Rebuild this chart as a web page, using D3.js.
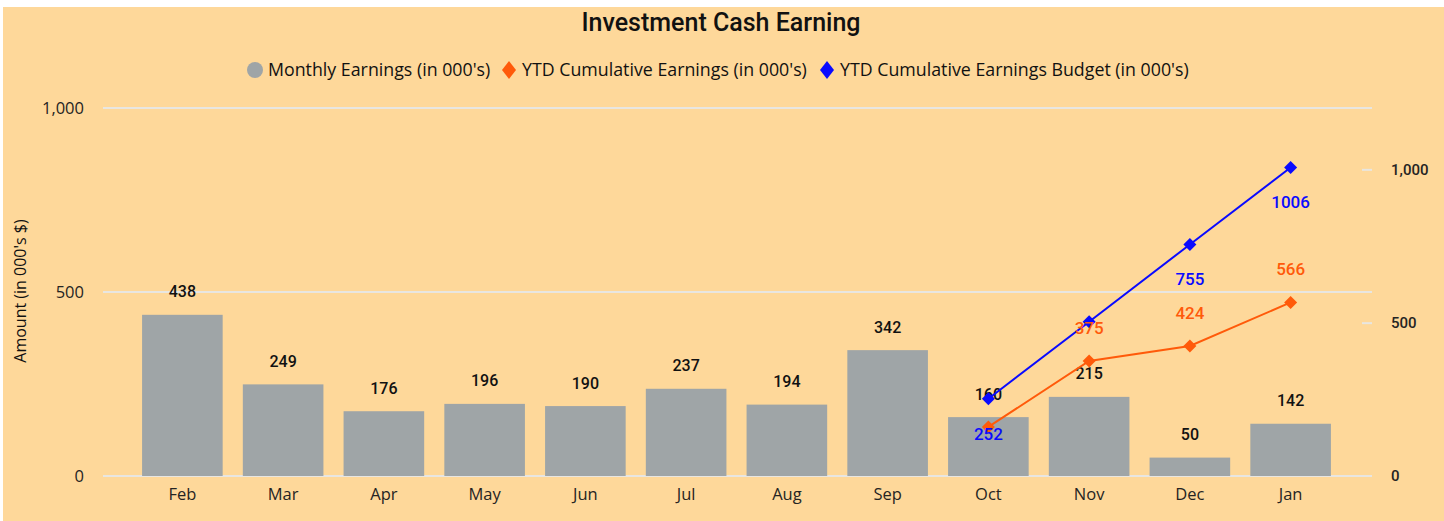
<!DOCTYPE html>
<html>
<head>
<meta charset="utf-8">
<script src="https://cdn.jsdelivr.net/npm/d3@7"></script>
<style>
  body { margin: 0; background: #ffffff; }
  svg { display: block; }
</style>
</head>
<body>
<script>
let w = 1444;
let h = 521;

const months = ["Feb", "Mar", "Apr", "May", "Jun", "Jul", "Aug", "Sep", "Oct", "Nov", "Dec", "Jan"];
const monthlyEarnings = [438, 249, 176, 196, 190, 237, 194, 342, 160, 215, 50, 142];
const ytdMonths = ["Oct", "Nov", "Dec", "Jan"];
const ytdEarnings = [160, 375, 424, 566];
const ytdBudget = [252, 503, 755, 1006];
const leftTicks = [0, 500, 1000];
const rightTicks = [0, 500, 1000];
const legendNames = ["Monthly Earnings (in 000's)", "YTD Cumulative Earnings (in 000's)", "YTD Cumulative Earnings Budget (in 000's)"];

const bg = "#fed89a";
const barColor = "#9fa5a7";
const orange = "#ff5a0a";
const blue = "#0a0aff";
const textFont = "'Open Sans', sans-serif";
const numFont = "Roboto, sans-serif";

//create our svg
let svg = d3.select("body").append("svg").attr("width", w).attr("height", h);

svg.append("rect")
  .attr("x", 3).attr("y", 7)
  .attr("width", w - 3).attr("height", h - 7)
  .attr("fill", bg);

//scales
let x = d3.scaleBand().domain(months).range([132, 1341]).paddingInner(0.2).paddingOuter(0.1);
let y = d3.scaleLinear().domain([0, 1000]).range([476, 108]);
let y2 = d3.scaleLinear().domain([0, 1200]).range([476, 108]);

//gridlines
svg.append("g")
  .selectAll("line")
  .data(leftTicks)
  .enter()
  .append("line")
  .attr("x1", 103).attr("x2", 1372)
  .attr("y1", d => y(d)).attr("y2", d => y(d))
  .attr("stroke", "#e8e6e1")
  .attr("stroke-width", 2);

//left axis
let leftAxis = svg.append("g")
  .attr("transform", "translate(84,0)")
  .call(d3.axisLeft(y).tickValues(leftTicks).tickFormat(d3.format(",")).tickSize(0).tickPadding(0));
leftAxis.select(".domain").remove();
leftAxis.selectAll("text")
  .attr("font-family", textFont)
  .attr("font-size", 16.5)
  .attr("fill", "#252423");

//right axis
let rightAxis = svg.append("g")
  .attr("transform", "translate(1372,0)")
  .call(d3.axisRight(y2).tickValues(rightTicks).tickFormat(d3.format(",")).tickSize(0).tickPadding(19));
rightAxis.select(".domain").remove();
rightAxis.selectAll("text")
  .attr("font-family", numFont)
  .attr("font-weight", 500)
  .attr("font-size", 15)
  .attr("fill", "#252423");
rightAxis.selectAll(".tick")
  .filter(d => d > 0)
  .append("line")
  .attr("x1", -10).attr("x2", 0)
  .attr("stroke", "#e8e6e1")
  .attr("stroke-width", 2);

//x axis
let xAxis = svg.append("g")
  .attr("transform", "translate(0,476)")
  .call(d3.axisBottom(x).tickSize(0).tickPadding(12));
xAxis.select(".domain").remove();
xAxis.selectAll("text")
  .attr("font-family", textFont)
  .attr("font-size", 16.5)
  .attr("fill", "#252423");

//y axis title
svg.append("text")
  .attr("transform", "translate(20,291) rotate(-90)")
  .attr("text-anchor", "middle")
  .attr("dy", "0.35em")
  .attr("font-family", textFont)
  .attr("font-size", 16)
  .attr("fill", "#111111")
  .text("Amount (in 000's $)");

//title
svg.append("text")
  .attr("x", 721).attr("y", 22)
  .attr("dy", "0.35em")
  .attr("text-anchor", "middle")
  .attr("font-family", numFont)
  .attr("font-weight", 500)
  .attr("font-size", 25)
  .attr("fill", "#111111")
  .text("Investment Cash Earning");

//bars
svg.append("g")
  .selectAll("rect")
  .data(monthlyEarnings)
  .enter()
  .append("rect")
  .attr("x", (d, i) => x(months[i]))
  .attr("y", d => y(d))
  .attr("width", x.bandwidth())
  .attr("height", d => y(0) - y(d))
  .attr("fill", barColor);

//labels, later ones are dropped when they overlap earlier ones
let placed = [];
function overlaps(a, b) {
  return a.x < b.x + b.width && b.x < a.x + a.width && a.y < b.y + b.height && b.y < a.y + a.height;
}
function addLabel(g, px, py, txt, color, size) {
  let t = g.append("text")
    .attr("x", px).attr("y", py)
    .attr("dy", "0.35em")
    .attr("text-anchor", "middle")
    .attr("font-family", numFont)
    .attr("font-weight", 500)
    .attr("font-size", size)
    .attr("fill", color)
    .text(txt);
  let box = t.node().getBBox();
  if (placed.some(b => overlaps(b, box))) {
    t.remove();
  } else {
    placed.push(box);
  }
}

let labelLayer = svg.append("g");
monthlyEarnings.forEach((d, i) => {
  addLabel(labelLayer, x(months[i]) + x.bandwidth() / 2, y(d) - 23, d, "#111111", 16);
});

//lines
function drawLine(values, color) {
  let line = d3.line()
    .x((d, i) => x(ytdMonths[i]) + x.bandwidth() / 2)
    .y(d => y2(d));
  svg.append("path")
    .datum(values)
    .attr("d", line)
    .attr("fill", "none")
    .attr("stroke", color)
    .attr("stroke-width", 2);
  svg.append("g")
    .selectAll("path")
    .data(values)
    .enter()
    .append("path")
    .attr("d", d3.symbol(d3.symbolSquare, 85)())
    .attr("transform", (d, i) => "translate(" + (x(ytdMonths[i]) + x.bandwidth() / 2) + "," + y2(d) + ") rotate(45)")
    .attr("fill", color);
}
drawLine(ytdEarnings, orange);
drawLine(ytdBudget, blue);

let lineLabels = svg.append("g");
ytdEarnings.forEach((d, i) => {
  addLabel(lineLabels, x(ytdMonths[i]) + x.bandwidth() / 2, y2(d) - 33, d, orange, 17);
});
ytdBudget.forEach((d, i) => {
  addLabel(lineLabels, x(ytdMonths[i]) + x.bandwidth() / 2, y2(d) + 35, d, blue, 17);
});

//legend
let legendX = [255, 509, 827];
let legend = svg.append("g");
legendNames.forEach((name, i) => {
  let lx = legendX[i];
  if (i === 0) {
    legend.append("circle").attr("cx", lx).attr("cy", 70).attr("r", 8).attr("fill", barColor);
  } else {
    legend.append("path")
      .attr("d", "M0,-9L7,0L0,9L-7,0Z")
      .attr("transform", "translate(" + lx + ",70)")
      .attr("fill", i === 1 ? orange : blue);
  }
  legend.append("text")
    .attr("x", lx + 13).attr("y", 70)
    .attr("dy", "0.35em")
    .attr("font-family", textFont)
    .attr("font-size", 17.8)
    .attr("fill", "#111111")
    .text(name);
});
</script>
</body>
</html>
